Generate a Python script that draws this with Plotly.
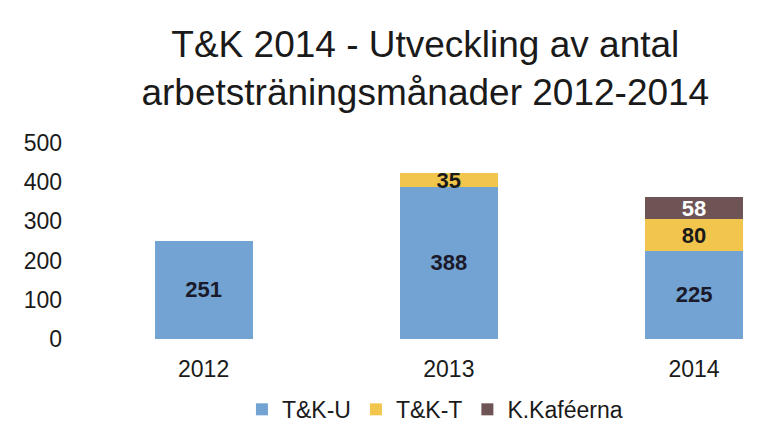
import plotly.graph_objects as go

years = ["2012", "2013", "2014"]
tk_u = [251, 388, 225]
tk_t = [None, 35, 80]
kafe = [None, None, 58]
series_names = ["T&K-U", "T&K-T", "K.Kaféerna"]
colors = ["#72a3d2", "#f2c64c", "#6e5455"]
text_colors = ["#1a1a2a", "#1a1a1a", "#ffffff"]
yticks = [0, 100, 200, 300, 400, 500]

fig = go.Figure()
for name, vals, col, tc in zip(series_names, [tk_u, tk_t, kafe], colors, text_colors):
    fig.add_trace(go.Bar(
        x=years, y=vals, name=name, marker=dict(color=col, line=dict(width=0)),
        text=[str(v) if v is not None else "" for v in vals],
        textposition="inside", insidetextanchor="middle", constraintext="none",
        textangle=0,
        textfont=dict(family="Liberation Sans", size=22, color=tc, weight="bold"),
        width=0.4,
    ))

fig.update_layout(
    barmode="stack",
    width=783, height=427,
    paper_bgcolor="white", plot_bgcolor="white",
    margin=dict(l=73, r=16, t=135, b=96, autoexpand=False),
    title=dict(text="T&K 2014 - Utveckling av antal<br>arbetsträningsmånader 2012-2014",
               x=0.533, xanchor="center", y=0.885, yanchor="top",
               font=dict(family="Liberation Sans", size=37, color="#1a1a1a")),
    font=dict(family="Liberation Sans", size=23, color="#1a1a1a"),
    showlegend=True,
    legend=dict(orientation="h", x=0.51, xanchor="center", yref="container",
                y=0.06, yanchor="middle",
                font=dict(size=23), traceorder="normal", itemwidth=30),
    uniformtext=dict(minsize=22, mode="show"),
)
fig.update_xaxes(type="category", range=[-0.5, 2.33], showline=False, showgrid=False,
                 ticks="", tickfont=dict(size=23), ticklabelstandoff=14)
fig.update_yaxes(range=[0, 500], tickvals=yticks, showgrid=False, showline=False,
                 zeroline=False, ticks="", tickfont=dict(size=23), ticklabelstandoff=18)

fig.write_html("out.html")
